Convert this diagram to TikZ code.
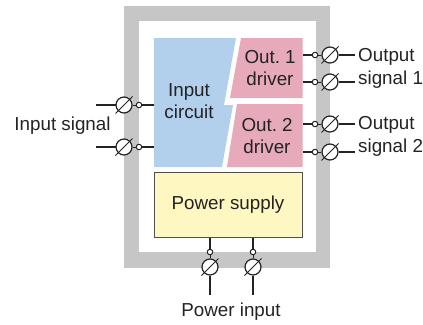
\documentclass[tikz,border=0pt]{standalone}
\usepackage{fontspec}
\setmainfont{Liberation Sans}
\definecolor{frameg}{RGB}{198,198,198}
\definecolor{blueb}{RGB}{178,208,235}
\definecolor{pinkb}{RGB}{231,170,187}
\definecolor{yellowb}{RGB}{254,247,194}
\definecolor{ink}{RGB}{35,35,35}
\tikzset{
  bigterm/.style={circle,draw=ink,fill=white,line width=1.2pt,minimum size=16pt,inner sep=0pt},
  smallterm/.style={circle,draw=ink,fill=white,line width=1pt,minimum size=5.5pt,inner sep=0pt},
  wire/.style={draw=ink,line width=2pt},
  thinwire/.style={draw=ink,line width=1pt},
  slash/.style={draw=ink,line width=1pt},
  lbl/.style={text=ink,font=\fontsize{18.8}{22.5}\selectfont,inner sep=0pt},
  mlbl/.style={lbl,align=center},
  llbl/.style={lbl,anchor=west,align=left}
}
\newcommand{\slashat}[1]{\draw[slash] ([shift={(-8.5,8.5)}]#1.center) -- ([shift={(8.5,-8.5)}]#1.center);}
\begin{document}
\begin{tikzpicture}[x=1pt,y=-1pt]
\useasboundingbox (0,0) rectangle (423,324);
% frame
\fill[frameg] (124,6) rectangle (330,268);
\fill[white] (139,21) rectangle (315.5,252);
% blocks
\fill[blueb] (154,38) -- (236,38) -- (224,105) -- (233,105) -- (222,167) -- (154,167) -- cycle;
\fill[pinkb] (241,38) -- (302.5,38) -- (302.5,98) -- (230,98) -- cycle;
\fill[pinkb] (237,104) -- (302.5,104) -- (302.5,167) -- (227,167) -- cycle;
\node[draw=ink!80,line width=0.7pt,fill=yellowb,minimum width=148pt,minimum height=65.5pt,inner sep=0pt,lbl] (ps) at (228,204.7) {Power supply};
\node[mlbl] (inc) at (189,101) {Input\\circuit};
\node[mlbl] (d1) at (270,68) {\spaceskip=0.17em Out. 1\\driver};
\node[mlbl] (d2) at (267,136) {\spaceskip=0.17em Out. 2\\driver};
% left terminals
\coordinate (ia) at (154,105); \coordinate (ib) at (154,147);
\coordinate (fa) at (96,105); \coordinate (fb) at (96,147);
\draw[wire] (fa) -- (124,105); \draw[wire] (ia) -- (139,105);
\draw[wire] (fb) -- (124,147); \draw[wire] (ib) -- (139,147);
\node[bigterm] (ta) at (124,105) {}; \node[smallterm] (sa) at (139,105) {};
\node[bigterm] (tb) at (124,147) {}; \node[smallterm] (sb) at (139,147) {};
\draw[thinwire] (ta) -- (sa); \draw[thinwire] (tb) -- (sb);
\slashat{ta}\slashat{tb}
% right terminals
\foreach \n/\y in {a/55,b/82,c/124,d/152}{
  \coordinate (o\n) at (302.5,\y);
  \coordinate (e\n) at (355,\y);
  \node[smallterm] (so\n) at (315,\y) {};
  \node[bigterm] (to\n) at (330,\y) {};
  \draw[wire] (o\n) -- (so\n);
  \draw[wire] (to\n) -- (e\n);
  \draw[thinwire] (so\n) -- (to\n);
  \slashat{to\n}
}
% bottom terminals
\foreach \n/\x in {a/210,b/253}{
  \coordinate (p\n) at (\x,237.5);
  \coordinate (q\n) at (\x,295);
  \node[smallterm] (sp\n) at (\x,252) {};
  \node[bigterm] (tp\n) at (\x,267) {};
  \draw[wire] (p\n) -- (sp\n);
  \draw[wire] (tp\n) -- (q\n);
  \draw[thinwire] (sp\n) -- (tp\n);
  \slashat{tp\n}
}
% labels
\node[lbl] (li) at (62.5,126) {Input signal};
\node[llbl] (l1a) at (358,57) {Output};
\node[llbl] (l1b) at (358,79.5) {signal 1};
\node[llbl] (l2a) at (358,125) {Output};
\node[llbl] (l2b) at (358,147.5) {signal 2};
\node[lbl] (lp) at (231,312) {Power input};
\end{tikzpicture}
\end{document}
